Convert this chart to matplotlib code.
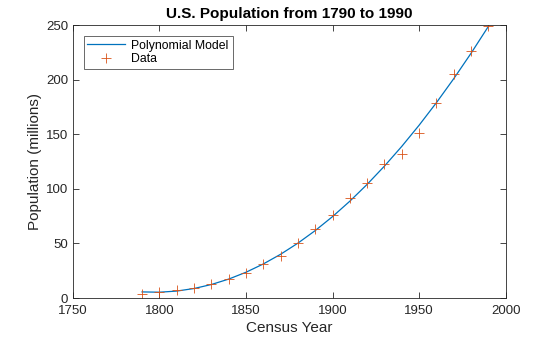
import numpy as np
import matplotlib.pyplot as plt

plt.rcParams['font.family'] = ['Liberation Sans', 'DejaVu Sans']

# census data
cdate = [1790, 1800, 1810, 1820, 1830, 1840, 1850, 1860, 1870, 1880, 1890,
         1900, 1910, 1920, 1930, 1940, 1950, 1960, 1970, 1980, 1990]
pop = [3.9, 5.3, 7.2, 9.6, 12.9, 17.1, 23.1, 31.4, 38.6, 50.2, 62.9,
       76.0, 92.0, 105.7, 122.8, 131.7, 150.7, 179.0, 205.0, 226.5, 248.7]

# quadratic model fitted to the data
x = np.array(cdate, dtype=float)
p = np.polyfit(x - 1890, pop, 2)
model = np.polyval(p, x - 1890)

fig = plt.figure(figsize=(5.6, 3.37), dpi=100)
ax = fig.add_axes([0.13, 0.1157, 0.773, 0.81])

ax.plot(cdate, model, color='#0072BD', lw=0.9, label='Polynomial Model')
ax.plot(cdate, pop, '+', color='#D95319', ms=6.5, mew=0.6, ls='none', label='Data')

ax.set_xlim(1750, 2000)
ax.set_ylim(0, 250)
ax.set_xticks([1750, 1800, 1850, 1900, 1950, 2000])
ax.set_yticks([0, 50, 100, 150, 200, 250])
ax.tick_params(direction='in', top=True, right=True, labelsize=9.5,
               length=4, width=0.6, colors='#262626', labelcolor='#262626')
ax.tick_params(axis='x', pad=5)
for s in ax.spines.values():
    s.set_linewidth(0.6)
    s.set_color('#262626')

ax.set_xlabel('Census Year', fontsize=11, color='#262626', labelpad=3)
ax.set_ylabel('Population (millions)', fontsize=11, color='#262626', labelpad=3)
ax.set_title('U.S. Population from 1790 to 1990', fontsize=11, fontweight='bold', pad=5)

leg = ax.legend(loc='upper left', fontsize=8.8, fancybox=False, edgecolor='#262626',
                borderaxespad=0.9, handlelength=3.1, handletextpad=0.5,
                borderpad=0.3, labelspacing=0.1)
leg.get_frame().set_linewidth(0.6)

plt.savefig('out.png', dpi=100)
